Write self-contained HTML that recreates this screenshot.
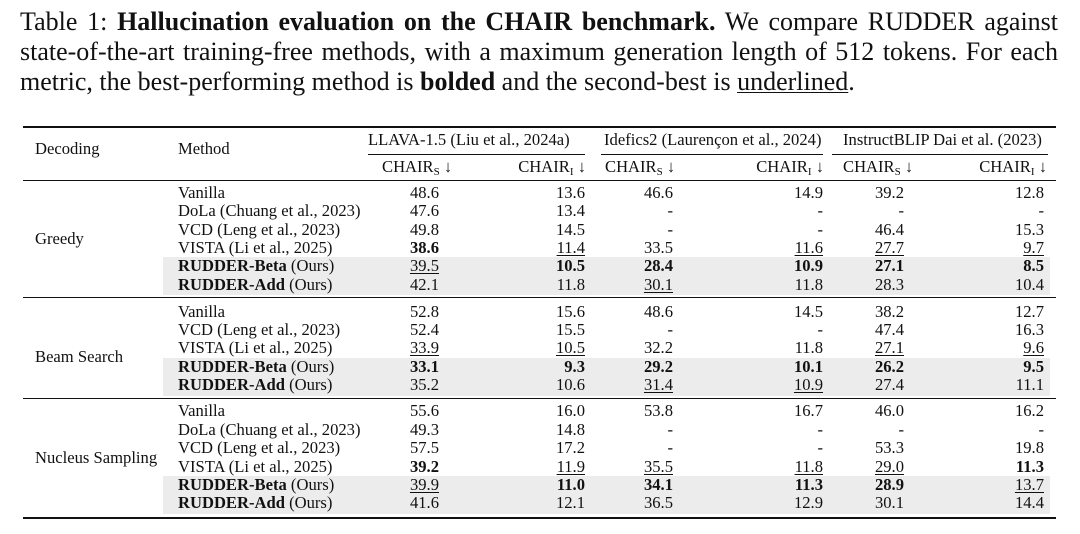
<!DOCTYPE html>
<html><head><meta charset="utf-8"><style>
body{margin:0;width:1080px;height:534px;background:#fff;position:relative;font-family:"Liberation Serif",serif;color:#111;overflow:hidden}
.t{position:absolute;left:20px;width:1038px;font-size:26px;line-height:30px;white-space:nowrap;text-align:justify;text-align-last:justify}
.a{position:absolute;font-size:16.6px;line-height:18px;white-space:nowrap}
.r{position:absolute;font-size:16.6px;line-height:18px;white-space:nowrap;transform:translateX(-100%)}
.h{position:absolute;background:#111}
.g{position:absolute;background:#ececec;left:163px;width:887px}
u{text-decoration:underline;text-underline-offset:2px;text-decoration-thickness:1px}
sub{font-size:11px;vertical-align:-3px;line-height:0}
</style></head><body>
<div class="t" style="top:7px">Table 1: <b>Hallucination evaluation on the CHAIR benchmark.</b> We compare RUDDER against</div>
<div class="t" style="top:37px">state-of-the-art training-free methods, with a maximum generation length of 512 tokens. For each</div>
<div class="t" style="top:67px;width:auto;text-align:left;text-align-last:left">metric, the best-performing method is <b>bolded</b> and the second-best is <u>underlined</u>.</div>

<div class="g" style="top:257px;height:38px"></div>
<div class="g" style="top:358px;height:38px"></div>
<div class="g" style="top:476px;height:38px"></div>

<div class="h" style="left:23px;width:1033px;top:126px;height:1.5px"></div>
<div class="h" style="left:368px;width:217px;top:154px;height:1px"></div>
<div class="h" style="left:601px;width:222px;top:154px;height:1px"></div>
<div class="h" style="left:832px;width:216px;top:154px;height:1px"></div>
<div class="h" style="left:23px;width:1033px;top:180px;height:1px"></div>
<div class="h" style="left:23px;width:1033px;top:297px;height:1px"></div>
<div class="h" style="left:23px;width:1033px;top:398px;height:1px"></div>
<div class="h" style="left:23px;width:1033px;top:517px;height:1.5px"></div>

<div class="a" style="left:35px;top:140px">Decoding</div>
<div class="a" style="left:178px;top:140px">Method</div>
<div class="a" style="left:368px;top:131px">LLAVA-1.5 (Liu et al., 2024a)</div>
<div class="a" style="left:604px;top:131px">Idefics2 (Laurençon et al., 2024)</div>
<div class="a" style="left:843px;top:131px">InstructBLIP Dai et al. (2023)</div>
<div class="a" style="left:382px;top:158px">CHAIR<sub>S</sub> ↓</div>
<div class="r" style="left:586px;top:158px">CHAIR<sub>I</sub> ↓</div>
<div class="a" style="left:605px;top:158px">CHAIR<sub>S</sub> ↓</div>
<div class="r" style="left:824px;top:158px">CHAIR<sub>I</sub> ↓</div>
<div class="a" style="left:843px;top:158px">CHAIR<sub>S</sub> ↓</div>
<div class="r" style="left:1047px;top:158px">CHAIR<sub>I</sub> ↓</div>

<div class="a" style="left:35px;top:230px">Greedy</div>
<div class="a" style="left:35px;top:348px">Beam Search</div>
<div class="a" style="left:35px;top:449px">Nucleus Sampling</div>

<div class="a" style="left:178px;top:184px">Vanilla</div>
<div class="r" style="left:439px;top:184px">48.6</div><div class="r" style="left:585px;top:184px">13.6</div><div class="r" style="left:673px;top:184px">46.6</div><div class="r" style="left:823px;top:184px">14.9</div><div class="r" style="left:904px;top:184px">39.2</div><div class="r" style="left:1044px;top:184px">12.8</div>
<div class="a" style="left:178px;top:202px">DoLa (Chuang et al., 2023)</div>
<div class="r" style="left:439px;top:202px">47.6</div><div class="r" style="left:585px;top:202px">13.4</div><div class="r" style="left:673px;top:202px">-</div><div class="r" style="left:823px;top:202px">-</div><div class="r" style="left:904px;top:202px">-</div><div class="r" style="left:1044px;top:202px">-</div>
<div class="a" style="left:178px;top:221px">VCD (Leng et al., 2023)</div>
<div class="r" style="left:439px;top:221px">49.8</div><div class="r" style="left:585px;top:221px">14.5</div><div class="r" style="left:673px;top:221px">-</div><div class="r" style="left:823px;top:221px">-</div><div class="r" style="left:904px;top:221px">46.4</div><div class="r" style="left:1044px;top:221px">15.3</div>
<div class="a" style="left:178px;top:239px">VISTA (Li et al., 2025)</div>
<div class="r" style="left:439px;top:239px"><b>38.6</b></div><div class="r" style="left:585px;top:239px"><u>11.4</u></div><div class="r" style="left:673px;top:239px">33.5</div><div class="r" style="left:823px;top:239px"><u>11.6</u></div><div class="r" style="left:904px;top:239px"><u>27.7</u></div><div class="r" style="left:1044px;top:239px"><u>9.7</u></div>
<div class="a" style="left:178px;top:257px"><b>RUDDER-Beta</b> (Ours)</div>
<div class="r" style="left:439px;top:257px"><u>39.5</u></div><div class="r" style="left:585px;top:257px"><b>10.5</b></div><div class="r" style="left:673px;top:257px"><b>28.4</b></div><div class="r" style="left:823px;top:257px"><b>10.9</b></div><div class="r" style="left:904px;top:257px"><b>27.1</b></div><div class="r" style="left:1044px;top:257px"><b>8.5</b></div>
<div class="a" style="left:178px;top:276px"><b>RUDDER-Add</b> (Ours)</div>
<div class="r" style="left:439px;top:276px">42.1</div><div class="r" style="left:585px;top:276px">11.8</div><div class="r" style="left:673px;top:276px"><u>30.1</u></div><div class="r" style="left:823px;top:276px">11.8</div><div class="r" style="left:904px;top:276px">28.3</div><div class="r" style="left:1044px;top:276px">10.4</div>

<div class="a" style="left:178px;top:303px">Vanilla</div>
<div class="r" style="left:439px;top:303px">52.8</div><div class="r" style="left:585px;top:303px">15.6</div><div class="r" style="left:673px;top:303px">48.6</div><div class="r" style="left:823px;top:303px">14.5</div><div class="r" style="left:904px;top:303px">38.2</div><div class="r" style="left:1044px;top:303px">12.7</div>
<div class="a" style="left:178px;top:321px">VCD (Leng et al., 2023)</div>
<div class="r" style="left:439px;top:321px">52.4</div><div class="r" style="left:585px;top:321px">15.5</div><div class="r" style="left:673px;top:321px">-</div><div class="r" style="left:823px;top:321px">-</div><div class="r" style="left:904px;top:321px">47.4</div><div class="r" style="left:1044px;top:321px">16.3</div>
<div class="a" style="left:178px;top:339px">VISTA (Li et al., 2025)</div>
<div class="r" style="left:439px;top:339px"><u>33.9</u></div><div class="r" style="left:585px;top:339px"><u>10.5</u></div><div class="r" style="left:673px;top:339px">32.2</div><div class="r" style="left:823px;top:339px">11.8</div><div class="r" style="left:904px;top:339px"><u>27.1</u></div><div class="r" style="left:1044px;top:339px"><u>9.6</u></div>
<div class="a" style="left:178px;top:358px"><b>RUDDER-Beta</b> (Ours)</div>
<div class="r" style="left:439px;top:358px"><b>33.1</b></div><div class="r" style="left:585px;top:358px"><b>9.3</b></div><div class="r" style="left:673px;top:358px"><b>29.2</b></div><div class="r" style="left:823px;top:358px"><b>10.1</b></div><div class="r" style="left:904px;top:358px"><b>26.2</b></div><div class="r" style="left:1044px;top:358px"><b>9.5</b></div>
<div class="a" style="left:178px;top:376px"><b>RUDDER-Add</b> (Ours)</div>
<div class="r" style="left:439px;top:376px">35.2</div><div class="r" style="left:585px;top:376px">10.6</div><div class="r" style="left:673px;top:376px"><u>31.4</u></div><div class="r" style="left:823px;top:376px"><u>10.9</u></div><div class="r" style="left:904px;top:376px">27.4</div><div class="r" style="left:1044px;top:376px">11.1</div>

<div class="a" style="left:178px;top:402px">Vanilla</div>
<div class="r" style="left:439px;top:402px">55.6</div><div class="r" style="left:585px;top:402px">16.0</div><div class="r" style="left:673px;top:402px">53.8</div><div class="r" style="left:823px;top:402px">16.7</div><div class="r" style="left:904px;top:402px">46.0</div><div class="r" style="left:1044px;top:402px">16.2</div>
<div class="a" style="left:178px;top:421px">DoLa (Chuang et al., 2023)</div>
<div class="r" style="left:439px;top:421px">49.3</div><div class="r" style="left:585px;top:421px">14.8</div><div class="r" style="left:673px;top:421px">-</div><div class="r" style="left:823px;top:421px">-</div><div class="r" style="left:904px;top:421px">-</div><div class="r" style="left:1044px;top:421px">-</div>
<div class="a" style="left:178px;top:439px">VCD (Leng et al., 2023)</div>
<div class="r" style="left:439px;top:439px">57.5</div><div class="r" style="left:585px;top:439px">17.2</div><div class="r" style="left:673px;top:439px">-</div><div class="r" style="left:823px;top:439px">-</div><div class="r" style="left:904px;top:439px">53.3</div><div class="r" style="left:1044px;top:439px">19.8</div>
<div class="a" style="left:178px;top:458px">VISTA (Li et al., 2025)</div>
<div class="r" style="left:439px;top:458px"><b>39.2</b></div><div class="r" style="left:585px;top:458px"><u>11.9</u></div><div class="r" style="left:673px;top:458px"><u>35.5</u></div><div class="r" style="left:823px;top:458px"><u>11.8</u></div><div class="r" style="left:904px;top:458px"><u>29.0</u></div><div class="r" style="left:1044px;top:458px"><b>11.3</b></div>
<div class="a" style="left:178px;top:476px"><b>RUDDER-Beta</b> (Ours)</div>
<div class="r" style="left:439px;top:476px"><u>39.9</u></div><div class="r" style="left:585px;top:476px"><b>11.0</b></div><div class="r" style="left:673px;top:476px"><b>34.1</b></div><div class="r" style="left:823px;top:476px"><b>11.3</b></div><div class="r" style="left:904px;top:476px"><b>28.9</b></div><div class="r" style="left:1044px;top:476px"><u>13.7</u></div>
<div class="a" style="left:178px;top:494px"><b>RUDDER-Add</b> (Ours)</div>
<div class="r" style="left:439px;top:494px">41.6</div><div class="r" style="left:585px;top:494px">12.1</div><div class="r" style="left:673px;top:494px">36.5</div><div class="r" style="left:823px;top:494px">12.9</div><div class="r" style="left:904px;top:494px">30.1</div><div class="r" style="left:1044px;top:494px">14.4</div>
</body></html>
